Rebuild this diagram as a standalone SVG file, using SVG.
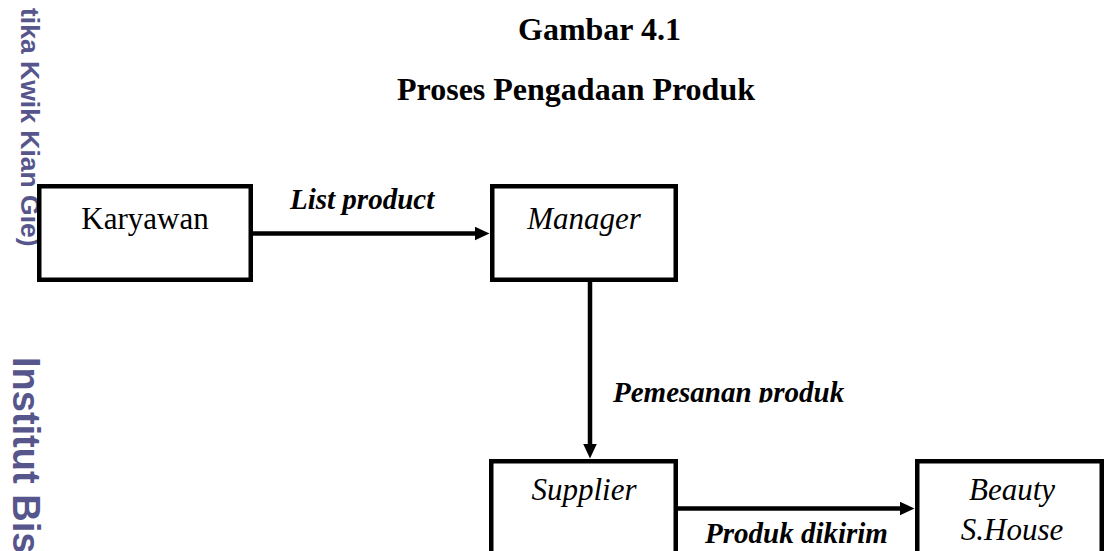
<svg xmlns="http://www.w3.org/2000/svg" width="1110" height="551" viewBox="0 0 1110 551">
  <defs>
    <style>
      .wm { font-family: "Liberation Sans", Arial, sans-serif; font-weight: bold; fill: #56568c; }
      .title { font-family: "Liberation Serif", "Times New Roman", serif; font-weight: bold; font-size: 32px; fill: #000; }
      .node { font-family: "Liberation Serif", "Times New Roman", serif; font-size: 31px; fill: #000; text-anchor: middle; }
      .it { font-style: italic; }
      .lbl { font-family: "Liberation Serif", "Times New Roman", serif; font-size: 29px; font-weight: bold; font-style: italic; fill: #000; }
      .box { fill: none; stroke: #000; stroke-width: 4.5; }
      .conn { fill: none; stroke: #000; stroke-width: 4.5; }
    </style>
    <marker id="ah" markerUnits="userSpaceOnUse" markerWidth="16" markerHeight="15" refX="0.5" refY="7" orient="auto">
      <path d="M0,0 L15,7 L0,14 Z" fill="#000"/>
    </marker>
    <clipPath id="clipPem">
      <rect x="0" y="0" width="1110" height="402.5"/>
    </clipPath>
  </defs>
  <rect width="1110" height="551" fill="#fff"/>

  <g id="watermark">
    <text class="wm" font-size="26.5" transform="translate(21,8) rotate(90)">tika Kwik Kian Gie)</text>
    <text class="wm" font-size="38" transform="translate(13,357) rotate(90)">Institut Bis</text>
  </g>

  <g id="title">
    <text class="title" x="518" y="40">Gambar 4.1</text>
    <text class="title" x="397" y="100">Proses Pengadaan Produk</text>
  </g>

  <g id="connectors">
    <line class="conn" x1="253" y1="233.5" x2="475" y2="233.5" marker-end="url(#ah)"/>
    <text class="lbl" x="290" y="209">List product</text>
    <line class="conn" x1="590" y1="282" x2="590" y2="444" marker-end="url(#ah)"/>
    <text class="lbl" x="613" y="402" clip-path="url(#clipPem)">Pemesanan produk</text>
    <line class="conn" x1="678" y1="508.5" x2="900" y2="508.5" marker-end="url(#ah)"/>
    <text class="lbl" x="705" y="543">Produk dikirim</text>
  </g>

  <g id="node-karyawan">
    <rect class="box" x="39.25" y="186.25" width="211.5" height="93.5"/>
    <text class="node" x="145" y="229">Karyawan</text>
  </g>
  <g id="node-manager">
    <rect class="box" x="492.25" y="186.25" width="183.5" height="93.5"/>
    <text class="node it" x="584" y="229">Manager</text>
  </g>
  <g id="node-supplier">
    <rect class="box" x="491.25" y="461.25" width="184.5" height="120"/>
    <text class="node it" x="584" y="500">Supplier</text>
  </g>
  <g id="node-beauty">
    <rect class="box" x="917.25" y="461.25" width="184.5" height="120"/>
    <text class="node it" x="1012" y="500">Beauty</text>
    <text class="node it" x="1012" y="540">S.House</text>
  </g>
</svg>
